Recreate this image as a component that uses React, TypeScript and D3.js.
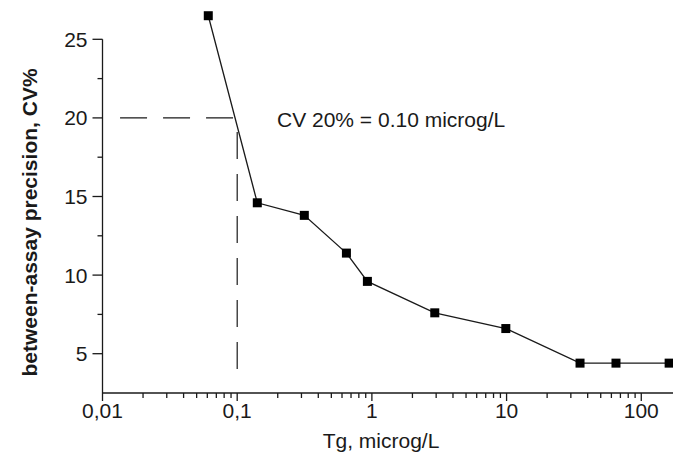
import React from "react";
import * as d3 from "d3";

// Tg concentration (microg/L) vs between-assay CV%
const tgValues = [0.061, 0.141, 0.315, 0.647, 0.926, 2.93, 9.87, 35.1, 64.9, 161];
const cvValues = [26.5, 14.6, 13.8, 11.4, 9.6, 7.6, 6.6, 4.4, 4.4, 4.4];

const xMajorTicks = [0.01, 0.1, 1, 10, 100];
const xTickLabels = ["0,01", "0,1", "1", "10", "100"];
const yMajorTicks = [5, 10, 15, 20, 25];
const yMinorTicks = [7.5, 12.5, 17.5, 22.5];

// functional sensitivity marker
const cutoffCv = 20;
const cutoffTg = 0.1;

const W = 673;
const H = 453;
const FONT = "'Liberation Sans', Arial, Helvetica, sans-serif";
const INK = "#1a1a1a";

const x = d3.scaleLog().domain([0.01, 172]).range([102.5, W]);
const y = d3.scaleLinear().domain([2.5, 25]).range([393, 39.3]);

const xMinorTicks = x
  .ticks()
  .filter((t) => !xMajorTicks.some((m) => Math.abs(m - t) / m < 1e-6));

const line = d3
  .line<number>()
  .x((d, i) => x(tgValues[i]))
  .y((d) => y(d));

const App = () => {
  const x0 = x.range()[0];
  const y0 = y.range()[0];
  const markSize = 9;

  return (
    <div style={{ position: "fixed", left: 0, top: 0 }}>
      <svg width={W} height={H} style={{ display: "block", background: "#fff" }}>
        {/* dashed guide lines */}
        <line
          x1={x(0.0135)}
          x2={x(cutoffTg)}
          y1={y(cutoffCv)}
          y2={y(cutoffCv)}
          stroke={INK}
          strokeWidth={1.2}
          strokeDasharray="27,16"
        />
        <line
          x1={x(cutoffTg)}
          x2={x(cutoffTg)}
          y1={y(19.1)}
          y2={y(3.8)}
          stroke={INK}
          strokeWidth={1.2}
          strokeDasharray="27,15"
        />

        {/* axes */}
        <g stroke={INK} strokeWidth={1.3} fill="none">
          <line x1={x0} x2={x0} y1={y(25)} y2={y0} />
          <line x1={x0} x2={W} y1={y0} y2={y0} />
          {yMajorTicks.map((t) => (
            <line key={"ym" + t} x1={x0 - 10} x2={x0} y1={y(t)} y2={y(t)} />
          ))}
          {yMinorTicks.map((t) => (
            <line key={"yn" + t} x1={x0 - 5} x2={x0} y1={y(t)} y2={y(t)} />
          ))}
          {xMajorTicks.map((t) => (
            <line key={"xm" + t} x1={x(t)} x2={x(t)} y1={y0} y2={y0 + 8} />
          ))}
          {xMinorTicks.map((t) => (
            <line key={"xn" + t} x1={x(t)} x2={x(t)} y1={y0} y2={y0 + 5} />
          ))}
        </g>

        {/* tick labels */}
        <g fill={INK} fontFamily={FONT} fontSize={21}>
          {yMajorTicks.map((t) => (
            <text key={"yl" + t} x={x0 - 15} y={y(t)} dy="0.36em" textAnchor="end">
              {t}
            </text>
          ))}
          {xMajorTicks.map((t, i) => (
            <text key={"xl" + t} x={x(t)} y={y0 + 25} textAnchor="middle">
              {xTickLabels[i]}
            </text>
          ))}
        </g>

        {/* axis titles */}
        <text
          x={381}
          y={448}
          textAnchor="middle"
          fontFamily={FONT}
          fontSize={21}
          fill={INK}
        >
          Tg, microg/L
        </text>
        <text
          transform={`translate(37,222.5) rotate(-90)`}
          textAnchor="middle"
          fontFamily={FONT}
          fontSize={21}
          fontWeight="bold"
          fill={INK}
        >
          between-assay precision, CV%
        </text>

        {/* annotation */}
        <text x={277} y={127} fontFamily={FONT} fontSize={21} fill={INK}>
          CV 20% = 0.10 microg/L
        </text>

        {/* data */}
        <path d={line(cvValues) || ""} fill="none" stroke={INK} strokeWidth={1.3} />
        {cvValues.map((v, i) => (
          <rect
            key={i}
            x={x(tgValues[i]) - markSize / 2}
            y={y(v) - markSize / 2}
            width={markSize}
            height={markSize}
            fill="#000"
          />
        ))}
      </svg>
    </div>
  );
};

export default App;
